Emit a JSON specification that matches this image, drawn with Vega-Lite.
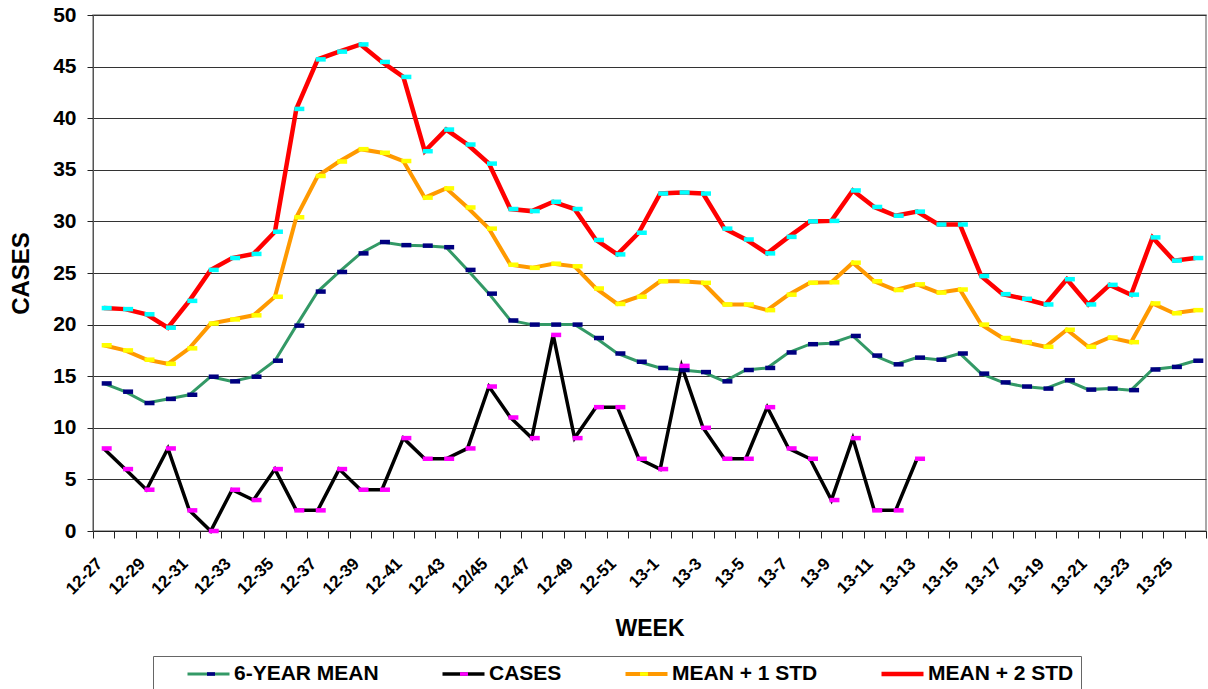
{
  "$schema": "https://vega.github.io/schema/vega-lite/v6.json",
  "width": 1113,
  "height": 516,
  "autosize": {"type": "none"},
  "padding": {"left": 93, "top": 15, "right": 2, "bottom": 158},
  "background": "white",
  "config": {
    "font": "Liberation Sans",
    "view": {"stroke": "#8c8c8c", "strokeWidth": 1.5}
  },
  "data": {
    "values": [
      {"week": "12-27", "6-YEAR MEAN": 14.3, "CASES": 8, "MEAN + 1 STD": 18.0, "MEAN + 2 STD": 21.6},
      {"week": "12-28", "6-YEAR MEAN": 13.5, "CASES": 6, "MEAN + 1 STD": 17.5, "MEAN + 2 STD": 21.5},
      {"week": "12-29", "6-YEAR MEAN": 12.4, "CASES": 4, "MEAN + 1 STD": 16.6, "MEAN + 2 STD": 21.0},
      {"week": "12-30", "6-YEAR MEAN": 12.8, "CASES": 8, "MEAN + 1 STD": 16.2, "MEAN + 2 STD": 19.7},
      {"week": "12-31", "6-YEAR MEAN": 13.2, "CASES": 2, "MEAN + 1 STD": 17.7, "MEAN + 2 STD": 22.3},
      {"week": "12-32", "6-YEAR MEAN": 14.95, "CASES": 0, "MEAN + 1 STD": 20.1, "MEAN + 2 STD": 25.3},
      {"week": "12-33", "6-YEAR MEAN": 14.5, "CASES": 4, "MEAN + 1 STD": 20.5, "MEAN + 2 STD": 26.45},
      {"week": "12-34", "6-YEAR MEAN": 14.95, "CASES": 3, "MEAN + 1 STD": 20.9, "MEAN + 2 STD": 26.85},
      {"week": "12-35", "6-YEAR MEAN": 16.5, "CASES": 6, "MEAN + 1 STD": 22.7, "MEAN + 2 STD": 29.0},
      {"week": "12-36", "6-YEAR MEAN": 19.9, "CASES": 2, "MEAN + 1 STD": 30.4, "MEAN + 2 STD": 40.9},
      {"week": "12-37", "6-YEAR MEAN": 23.2, "CASES": 2, "MEAN + 1 STD": 34.4, "MEAN + 2 STD": 45.7},
      {"week": "12-38", "6-YEAR MEAN": 25.1, "CASES": 6, "MEAN + 1 STD": 35.8, "MEAN + 2 STD": 46.45},
      {"week": "12-39", "6-YEAR MEAN": 26.9, "CASES": 4, "MEAN + 1 STD": 37.0, "MEAN + 2 STD": 47.15},
      {"week": "12-40", "6-YEAR MEAN": 28.0, "CASES": 4, "MEAN + 1 STD": 36.65, "MEAN + 2 STD": 45.45},
      {"week": "12-41", "6-YEAR MEAN": 27.7, "CASES": 9, "MEAN + 1 STD": 35.85, "MEAN + 2 STD": 44.0},
      {"week": "12-42", "6-YEAR MEAN": 27.65, "CASES": 7, "MEAN + 1 STD": 32.3, "MEAN + 2 STD": 36.8},
      {"week": "12-43", "6-YEAR MEAN": 27.5, "CASES": 7, "MEAN + 1 STD": 33.2, "MEAN + 2 STD": 38.9},
      {"week": "12-44", "6-YEAR MEAN": 25.3, "CASES": 8, "MEAN + 1 STD": 31.35, "MEAN + 2 STD": 37.45},
      {"week": "12/45", "6-YEAR MEAN": 23.0, "CASES": 14, "MEAN + 1 STD": 29.3, "MEAN + 2 STD": 35.6},
      {"week": "12-46", "6-YEAR MEAN": 20.4, "CASES": 11, "MEAN + 1 STD": 25.8, "MEAN + 2 STD": 31.2},
      {"week": "12-47", "6-YEAR MEAN": 20.0, "CASES": 9, "MEAN + 1 STD": 25.5, "MEAN + 2 STD": 31.0},
      {"week": "12-48", "6-YEAR MEAN": 20.0, "CASES": 19, "MEAN + 1 STD": 25.9, "MEAN + 2 STD": 31.9},
      {"week": "12-49", "6-YEAR MEAN": 20.0, "CASES": 9, "MEAN + 1 STD": 25.65, "MEAN + 2 STD": 31.2},
      {"week": "12-50", "6-YEAR MEAN": 18.7, "CASES": 12, "MEAN + 1 STD": 23.5, "MEAN + 2 STD": 28.2},
      {"week": "12-51", "6-YEAR MEAN": 17.2, "CASES": 12, "MEAN + 1 STD": 22.0, "MEAN + 2 STD": 26.8},
      {"week": "12-52", "6-YEAR MEAN": 16.4, "CASES": 7, "MEAN + 1 STD": 22.7, "MEAN + 2 STD": 28.9},
      {"week": "13-1", "6-YEAR MEAN": 15.8, "CASES": 6, "MEAN + 1 STD": 24.2, "MEAN + 2 STD": 32.7},
      {"week": "13-2", "6-YEAR MEAN": 15.6, "CASES": 16, "MEAN + 1 STD": 24.2, "MEAN + 2 STD": 32.8},
      {"week": "13-3", "6-YEAR MEAN": 15.4, "CASES": 10, "MEAN + 1 STD": 24.05, "MEAN + 2 STD": 32.7},
      {"week": "13-4", "6-YEAR MEAN": 14.5, "CASES": 7, "MEAN + 1 STD": 21.95, "MEAN + 2 STD": 29.3},
      {"week": "13-5", "6-YEAR MEAN": 15.6, "CASES": 7, "MEAN + 1 STD": 21.95, "MEAN + 2 STD": 28.25},
      {"week": "13-6", "6-YEAR MEAN": 15.8, "CASES": 12, "MEAN + 1 STD": 21.4, "MEAN + 2 STD": 26.9},
      {"week": "13-7", "6-YEAR MEAN": 17.3, "CASES": 8, "MEAN + 1 STD": 22.9, "MEAN + 2 STD": 28.5},
      {"week": "13-8", "6-YEAR MEAN": 18.1, "CASES": 7, "MEAN + 1 STD": 24.05, "MEAN + 2 STD": 30.0},
      {"week": "13-9", "6-YEAR MEAN": 18.2, "CASES": 3, "MEAN + 1 STD": 24.1, "MEAN + 2 STD": 30.05},
      {"week": "13-10", "6-YEAR MEAN": 18.9, "CASES": 9, "MEAN + 1 STD": 26.0, "MEAN + 2 STD": 33.0},
      {"week": "13-11", "6-YEAR MEAN": 17.0, "CASES": 2, "MEAN + 1 STD": 24.2, "MEAN + 2 STD": 31.4},
      {"week": "13-12", "6-YEAR MEAN": 16.15, "CASES": 2, "MEAN + 1 STD": 23.35, "MEAN + 2 STD": 30.55},
      {"week": "13-13", "6-YEAR MEAN": 16.8, "CASES": 7, "MEAN + 1 STD": 23.9, "MEAN + 2 STD": 30.95},
      {"week": "13-14", "6-YEAR MEAN": 16.6, "MEAN + 1 STD": 23.1, "MEAN + 2 STD": 29.7},
      {"week": "13-15", "6-YEAR MEAN": 17.2, "MEAN + 1 STD": 23.4, "MEAN + 2 STD": 29.7},
      {"week": "13-16", "6-YEAR MEAN": 15.25, "MEAN + 1 STD": 20.0, "MEAN + 2 STD": 24.7},
      {"week": "13-17", "6-YEAR MEAN": 14.4, "MEAN + 1 STD": 18.7, "MEAN + 2 STD": 22.95},
      {"week": "13-18", "6-YEAR MEAN": 14.0, "MEAN + 1 STD": 18.3, "MEAN + 2 STD": 22.5},
      {"week": "13-19", "6-YEAR MEAN": 13.8, "MEAN + 1 STD": 17.85, "MEAN + 2 STD": 21.95},
      {"week": "13-20", "6-YEAR MEAN": 14.6, "MEAN + 1 STD": 19.5, "MEAN + 2 STD": 24.4},
      {"week": "13-21", "6-YEAR MEAN": 13.7, "MEAN + 1 STD": 17.85, "MEAN + 2 STD": 21.95},
      {"week": "13-22", "6-YEAR MEAN": 13.8, "MEAN + 1 STD": 18.75, "MEAN + 2 STD": 23.85},
      {"week": "13-23", "6-YEAR MEAN": 13.65, "MEAN + 1 STD": 18.3, "MEAN + 2 STD": 22.9},
      {"week": "13-24", "6-YEAR MEAN": 15.65, "MEAN + 1 STD": 22.05, "MEAN + 2 STD": 28.45},
      {"week": "13-25", "6-YEAR MEAN": 15.9, "MEAN + 1 STD": 21.1, "MEAN + 2 STD": 26.2},
      {"week": "13-26", "6-YEAR MEAN": 16.5, "MEAN + 1 STD": 21.4, "MEAN + 2 STD": 26.45}
    ]
  },
  "transform": [
    {"fold": ["6-YEAR MEAN", "CASES", "MEAN + 1 STD", "MEAN + 2 STD"], "as": ["series", "value"]}
  ],
  "encoding": {
    "x": {
      "field": "week",
      "type": "ordinal",
      "scale": {
        "type": "band",
        "paddingInner": 0,
        "paddingOuter": 0,
        "domain": ["12-27","12-28","12-29","12-30","12-31","12-32","12-33","12-34","12-35","12-36","12-37","12-38","12-39","12-40","12-41","12-42","12-43","12-44","12/45","12-46","12-47","12-48","12-49","12-50","12-51","12-52","13-1","13-2","13-3","13-4","13-5","13-6","13-7","13-8","13-9","13-10","13-11","13-12","13-13","13-14","13-15","13-16","13-17","13-18","13-19","13-20","13-21","13-22","13-23","13-24","13-25","13-26"]
      },
      "axis": {
        "title": "WEEK",
        "titleFontSize": 23,
        "titleFontWeight": "bold",
        "titleColor": "#000",
        "titlePadding": 20,
        "labelAngle": -45,
        "labelAlign": "right",
        "labelBaseline": "top",
        "labelFontSize": 17,
        "labelFontWeight": "bold",
        "labelColor": "#000",
        "labelPadding": 17,
        "labelOffset": -10,
        "labelOverlap": false,
        "labelExpr": "toNumber(slice(datum.label, 3)) % 2 == 1 ? datum.label : ''",
        "tickBand": "extent",
        "tickSize": 7,
        "tickColor": "#222",
        "domainColor": "#222",
        "grid": false
      }
    },
    "y": {
      "field": "value",
      "type": "quantitative",
      "scale": {"domain": [0, 50], "nice": false},
      "axis": {
        "title": "CASES",
        "titleFontSize": 24,
        "titleFontWeight": "bold",
        "titleColor": "#000",
        "titlePadding": 19,
        "values": [0, 5, 10, 15, 20, 25, 30, 35, 40, 45, 50],
        "labelFontSize": 21,
        "labelFontWeight": "bold",
        "labelColor": "#000",
        "labelPadding": 11,
        "tickSize": 6,
        "tickColor": "#222",
        "domainColor": "#555",
        "gridColor": "#333",
        "gridWidth": 1
      }
    }
  },
  "layer": [
    {
      "mark": {"type": "line", "strokeJoin": "miter"},
      "encoding": {
        "color": {
          "field": "series",
          "type": "nominal",
          "scale": {
            "domain": ["6-YEAR MEAN", "CASES", "MEAN + 1 STD", "MEAN + 2 STD"],
            "range": ["#339966", "#000000", "#FF9900", "#FF0000"]
          },
          "legend": {
            "orient": "none",
            "legendX": 60,
            "legendY": 641,
            "direction": "horizontal",
            "columns": 4,
            "title": " ",
            "titleOrient": "left",
            "titleFontSize": 1,
            "titlePadding": 25,
            "padding": 7,
            "strokeColor": "#666",
            "symbolType": "stroke",
            "symbolSize": 1764,
            "symbolStrokeWidth": 3,
            "clipHeight": 22,
            "labelFontSize": 21,
            "labelFontWeight": "bold",
            "labelColor": "#000",
            "labelOffset": 2,
            "labelLimit": 400,
            "columnPadding": 61
          }
        },
        "strokeWidth": {
          "field": "series",
          "type": "nominal",
          "scale": {
            "domain": ["6-YEAR MEAN", "CASES", "MEAN + 1 STD", "MEAN + 2 STD"],
            "range": [3, 4.5, 3, 3]
          },
          "legend": null
        },
        "order": {"value": null}
      }
    },
    {
      "mark": {"type": "point", "filled": true, "size": 100, "strokeWidth": 0, "xOffset": 3, "shape": "M-1,-0.45H1V0.45H-1Z"},
      "encoding": {
        "fill": {
          "field": "series",
          "type": "nominal",
          "scale": {"range": ["#000080", "#FF00FF", "#FFFF00", "#00FFFF"]},
          "legend": {
            "orient": "none", "legendX": 114, "legendY": 655, "title": null, "values": ["6-YEAR MEAN"],
            "padding": 0, "symbolType": "M-1,-0.45H1V0.45H-1Z", "symbolSize": 64, "symbolStrokeWidth": 0, "symbolOpacity": 1,
            "labelExpr": "''", "labelFontSize": 1, "labelOffset": 0
          }
        },
        "shape": {
          "field": "series",
          "type": "nominal",
          "scale": {
            "domain": ["CASES", "6-YEAR MEAN", "MEAN + 1 STD", "MEAN + 2 STD"],
            "range": ["M-1,-0.45H1V0.45H-1Z", "M-1,-0.45H1V0.45H-1Z", "M-1,-0.45H1V0.45H-1Z", "M-1,-0.45H1V0.45H-1Z"]
          },
          "legend": {
            "orient": "none", "legendX": 367, "legendY": 655, "title": null, "values": ["CASES"],
            "padding": 0, "symbolSize": 64, "symbolStrokeWidth": 0, "symbolOpacity": 1, "symbolFillColor": "#FF00FF",
            "labelExpr": "''", "labelFontSize": 1, "labelOffset": 0
          }
        },
        "opacity": {
          "field": "series",
          "type": "nominal",
          "scale": {
            "domain": ["MEAN + 1 STD", "6-YEAR MEAN", "CASES", "MEAN + 2 STD"],
            "range": [1, 1, 1, 1]
          },
          "legend": {
            "orient": "none", "legendX": 547, "legendY": 655, "title": null, "values": ["MEAN + 1 STD"],
            "padding": 0, "symbolType": "M-1,-0.45H1V0.45H-1Z", "symbolSize": 64, "symbolStrokeWidth": 0, "symbolFillColor": "#FFFF00",
            "labelExpr": "''", "labelFontSize": 1, "labelOffset": 0
          }
        },
        "fillOpacity": {
          "field": "series",
          "type": "nominal",
          "scale": {
            "domain": ["MEAN + 2 STD", "6-YEAR MEAN", "CASES", "MEAN + 1 STD"],
            "range": [1, 1, 1, 1]
          },
          "legend": {
            "orient": "none", "legendX": 800, "legendY": 655, "title": null, "values": ["MEAN + 2 STD"],
            "padding": 0, "symbolType": "M-1,-0.45H1V0.45H-1Z", "symbolSize": 64, "symbolStrokeWidth": 0, "symbolOpacity": 1, "symbolFillColor": "#00FFFF",
            "labelExpr": "''", "labelFontSize": 1, "labelOffset": 0
          }
        }
      }
    }
  ]
}
